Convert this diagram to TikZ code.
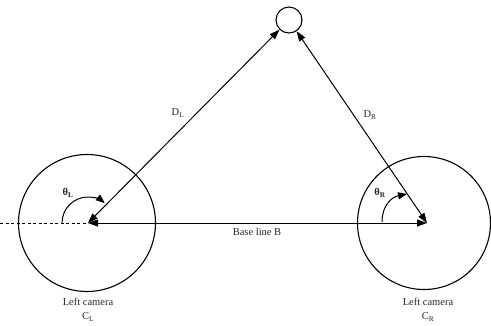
\documentclass[tikz,border=0pt]{standalone}
\usepackage{fontspec}
\setmainfont{Liberation Serif}
\usetikzlibrary{arrows.meta}
\begin{document}
\begin{tikzpicture}[x=1pt,y=-1pt,
  conn/.style={line width=1pt,{Triangle[length=10pt,width=7pt]}-{Triangle[length=10pt,width=7pt]}},
  angarc/.style={line width=1pt,-{Triangle[length=9pt,width=7pt]}},
  lbl/.style={font=\fontsize{10.5}{12}\selectfont,inner sep=1pt,text=black!85},
  cam/.style={draw,line width=1pt,circle}]
\useasboundingbox (0,0) rectangle (491,325);
\coordinate (cl) at (88,223);
\coordinate (cr) at (427,223);
\coordinate (dashend) at (0,223);
\node[draw,circle,line width=1.1pt,minimum size=26pt,inner sep=0pt] (obj) at (289,20) {};
\draw[line width=1.1pt] (87,223) circle (68.5);
\draw[line width=1.1pt] (424,223) circle (66.5);
\draw[line width=1pt,dash pattern=on 3pt off 2.5pt] (dashend) -- (cl);
\draw[conn] (cl) -- (obj);
\draw[conn] (cr) -- (obj);
\draw[conn] (cl) -- (cr);
\draw[angarc] (62,223) arc[start angle=180,end angle=50,x radius=26,y radius=-26];
\draw[angarc] (382,222) .. controls (382,205) and (392,197) .. (407,194);
\node[lbl] (dl) at (178,113) {D\textsubscript{L}};
\node[lbl] (dr) at (370,115) {D\textsubscript{R}};
\node[lbl] (tl) at (68,193) {\textbf{θ\textsubscript{L}}};
\node[lbl] (tr) at (380,193) {\textbf{θ\textsubscript{R}}};
\node[lbl] (base) at (257,232) {Base line B};
\node[lbl] (capl) at (88,302) {Left camera};
\node[lbl] (cl2) at (88,317) {C\textsubscript{L}};
\node[lbl] (capr) at (428,302) {Left camera};
\node[lbl] (cr2) at (428,317) {C\textsubscript{R}};
\end{tikzpicture}
\end{document}
